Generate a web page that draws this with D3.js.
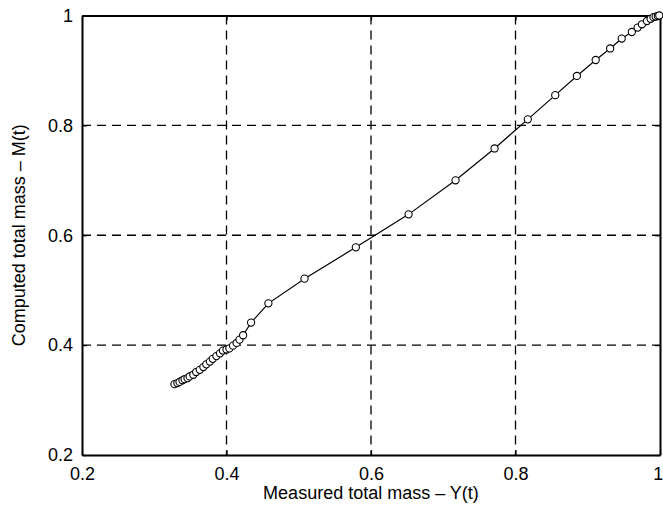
<!DOCTYPE html>
<html>
<head>
<meta charset="utf-8">
<script src="https://cdn.jsdelivr.net/npm/d3@7"></script>
<style>
  body { margin: 0; background: #fff; }
  svg text { font-family: "Liberation Sans", Arial, sans-serif; fill: #000; }
</style>
</head>
<body>
<div></div>
<script>
// measured total mass Y(t)
var measured = [0.328, 0.332, 0.335, 0.339, 0.342, 0.346, 0.349, 0.354, 0.358, 0.363,
                0.368, 0.372, 0.377, 0.381, 0.386, 0.391, 0.395, 0.400, 0.404, 0.409,
                0.414, 0.418, 0.423, 0.434, 0.458, 0.508, 0.579, 0.652, 0.717, 0.771,
                0.817, 0.855, 0.885, 0.911, 0.931, 0.947, 0.961, 0.969, 0.975, 0.982,
                0.987, 0.991, 0.994, 0.997, 0.999];
// computed total mass M(t)
var computed = [0.329, 0.331, 0.333, 0.336, 0.338, 0.340, 0.343, 0.346, 0.351, 0.355,
                0.360, 0.365, 0.370, 0.375, 0.380, 0.385, 0.390, 0.392, 0.394, 0.399,
                0.404, 0.410, 0.418, 0.441, 0.476, 0.521, 0.578, 0.638, 0.700, 0.758,
                0.811, 0.855, 0.890, 0.919, 0.940, 0.958, 0.970, 0.978, 0.984, 0.990,
                0.994, 0.997, 0.998, 0.999, 1.000];
var xTicks = [0.2, 0.4, 0.6, 0.8, 1];
var yTicks = [0.2, 0.4, 0.6, 0.8, 1];

var width = 663,
    height = 506,
    mLeft = 82,
    mRight = 660,
    mTop = 15.5,
    mBottom = 455;

var svg = d3.select("div").append("svg")
    .attr("width", width)
    .attr("height", height);

var x = d3.scaleLinear().domain([0.2, 1]).range([mLeft, mRight]);
var y = d3.scaleLinear().domain([0.2, 1]).range([mBottom, mTop]);

var fmt = function (d) { return d === 1 ? "1" : d3.format(".1f")(d); };

// dashed grid
svg.append("g").selectAll("line").data(xTicks.slice(1, -1)).join("line")
    .attr("x1", d => x(d)).attr("x2", d => x(d))
    .attr("y1", mTop).attr("y2", mBottom)
    .attr("stroke", "#000").attr("stroke-width", 1.3).attr("stroke-dasharray", "9,6");
svg.append("g").selectAll("line").data(yTicks.slice(1, -1)).join("line")
    .attr("x1", mLeft).attr("x2", mRight)
    .attr("y1", d => y(d)).attr("y2", d => y(d))
    .attr("stroke", "#000").attr("stroke-width", 1.3).attr("stroke-dasharray", "9,6");

// axes with inward ticks
var xAxis = svg.append("g").attr("transform", "translate(0," + mBottom + ")")
    .call(d3.axisBottom(x).tickValues(xTicks).tickFormat(fmt).tickSizeInner(-5).tickSizeOuter(0).tickPadding(12));
var xTop = svg.append("g").attr("transform", "translate(0," + mTop + ")")
    .call(d3.axisTop(x).tickValues(xTicks).tickFormat("").tickSizeInner(-5).tickSizeOuter(0));
var yAxis = svg.append("g").attr("transform", "translate(" + mLeft + ",0)")
    .call(d3.axisLeft(y).tickValues(yTicks).tickFormat(fmt).tickSizeInner(-5).tickSizeOuter(0).tickPadding(9));
var yRight = svg.append("g").attr("transform", "translate(" + mRight + ",0)")
    .call(d3.axisRight(y).tickValues(yTicks).tickFormat("").tickSizeInner(-5).tickSizeOuter(0));

[xAxis, xTop, yAxis, yRight].forEach(function (g) {
  g.select(".domain").attr("stroke", "#000").attr("stroke-width", 2);
  g.selectAll(".tick line").attr("stroke", "#000").attr("stroke-width", 1.2);
  g.selectAll("text").attr("font-size", 18).attr("font-family", "Liberation Sans, Arial, sans-serif");
});
xAxis.selectAll("text").attr("dy", "0.71em");
// last x label sits at the window edge
xAxis.selectAll(".tick text").filter(d => d === 1).attr("text-anchor", "end").attr("dx", "0.15em");

// curve and markers
var pts = measured.map(function (d, i) { return [d, computed[i]]; });
svg.append("path").datum(pts)
    .attr("d", d3.line().x(d => x(d[0])).y(d => y(d[1])))
    .attr("fill", "none").attr("stroke", "#000").attr("stroke-width", 1.2);
svg.append("g").selectAll("circle").data(pts).join("circle")
    .attr("cx", d => x(d[0])).attr("cy", d => y(d[1])).attr("r", 3.6)
    .attr("fill", "#fff").attr("stroke", "#000").attr("stroke-width", 1.1);

// axis titles
svg.append("text").attr("x", (mLeft + mRight) / 2).attr("y", 499)
    .attr("text-anchor", "middle").attr("font-size", 18)
    .text("Measured total mass \u2013 Y(t)");
svg.append("text")
    .attr("transform", "translate(25," + ((mTop + mBottom) / 2) + ") rotate(-90)")
    .attr("text-anchor", "middle").attr("font-size", 18)
    .text("Computed total mass \u2013 M(t)");
</script>
</body>
</html>
